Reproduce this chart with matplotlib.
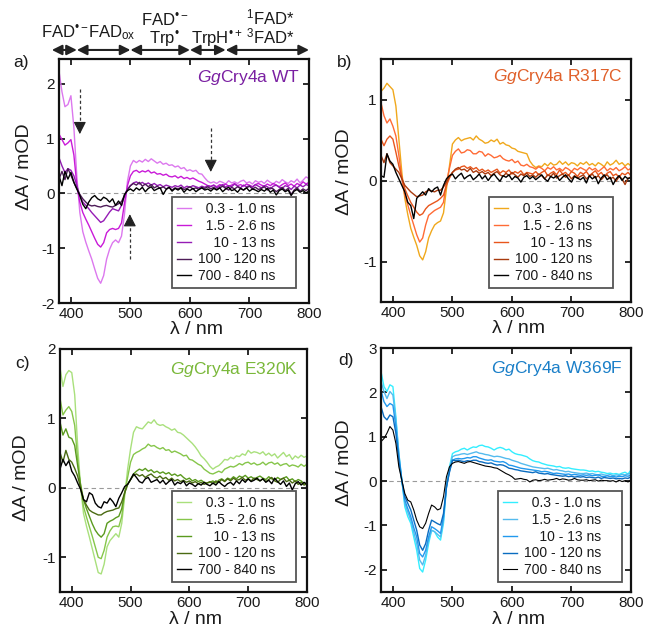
import numpy as np
import matplotlib
matplotlib.use("Agg")
import matplotlib.pyplot as plt
from matplotlib.transforms import blended_transform_factory

plt.rcParams["font.family"] = ["Liberation Sans", "DejaVu Sans"]
plt.rcParams["mathtext.fontset"] = "custom"
plt.rcParams["mathtext.rm"] = "Liberation Sans"
plt.rcParams["mathtext.it"] = "Liberation Sans:italic"
plt.rcParams["mathtext.bf"] = "Liberation Sans:bold"
plt.rcParams["mathtext.sf"] = "Liberation Sans"
TXT = "#1a1a1a"

# wavelength grid of the transient spectra (nm)
wavelength = np.arange(380, 801, 5)

delay_labels = ["  0.3 - 1.0 ns", "  1.5 - 2.6 ns", "    10 - 13 ns",
                "100 - 120 ns", "700 - 840 ns"]

# ---- GgCry4a WT ----
wt_03 = [2.23, 1.85, 1.58, 1.62, 1.78, 1.20, 0.30, -0.35, -0.70, -0.89, -1.05, -1.20, -1.38, -1.55, -1.64, -1.50, -1.20,
         -1.02, -0.90, -0.85, -0.90, -0.78, -0.38, 0.22, 0.50, 0.60, 0.56, 0.60, 0.57, 0.62, 0.58, 0.63, 0.59, 0.55,
         0.58, 0.53, 0.55, 0.51, 0.52, 0.48, 0.50, 0.45, 0.47, 0.41, 0.43, 0.40, 0.42, 0.36, 0.35, 0.28, 0.22,
         0.19, 0.21, 0.18, 0.22, 0.20, 0.17, 0.23, 0.19, 0.21, 0.18, 0.22, 0.24, 0.19, 0.21, 0.17, 0.23, 0.20,
         0.22, 0.18, 0.24, 0.20, 0.17, 0.22, 0.19, 0.25, 0.21, 0.18, 0.23, 0.20, 0.26, 0.19, 0.24, 0.30, 0.27]
wt_15 = [1.08, 0.98, 0.88, 0.92, 0.98, 0.70, 0.15, -0.16, -0.35, -0.47, -0.58, -0.70, -0.82, -0.93, -0.98, -0.90, -0.72,
         -0.66, -0.64, -0.66, -0.64, -0.54, -0.18, 0.14, 0.32, 0.40, 0.42, 0.38, 0.41, 0.39, 0.42, 0.37, 0.39, 0.35,
         0.36, 0.33, 0.35, 0.31, 0.30, 0.32, 0.28, 0.31, 0.27, 0.29, 0.26, 0.28, 0.25, 0.22, 0.20, 0.17, 0.14,
         0.13, 0.15, 0.12, 0.16, 0.14, 0.17, 0.13, 0.15, 0.18, 0.14, 0.16, 0.13, 0.17, 0.15, 0.12, 0.16, 0.18,
         0.15, 0.13, 0.17, 0.14, 0.18, 0.15, 0.12, 0.16, 0.19, 0.14, 0.17, 0.13, 0.18, 0.15, 0.21, 0.17, 0.20]
wt_10 = [0.65, 0.50, 0.38, 0.45, 0.42, 0.32, 0.14, -0.04, -0.16, -0.22, -0.28, -0.35, -0.41, -0.47, -0.53, -0.50, -0.42,
         -0.34, -0.28, -0.30, -0.32, -0.22, -0.05, 0.08, 0.14, 0.19, 0.21, 0.17, 0.20, 0.16, 0.19, 0.15, 0.18, 0.14,
         0.16, 0.12, 0.15, 0.13, 0.11, 0.14, 0.12, 0.15, 0.10, 0.13, 0.11, 0.14, 0.12, 0.10, 0.13, 0.11, 0.14,
         0.12, 0.15, 0.10, 0.13, 0.16, 0.11, 0.14, 0.12, 0.17, 0.13, 0.10, 0.15, 0.12, 0.14, 0.11, 0.16, 0.13,
         0.10, 0.14, 0.12, 0.08, 0.13, 0.15, 0.11, 0.09, 0.14, 0.12, 0.07, 0.13, 0.10, 0.15, 0.12, 0.16, 0.14]
wt_100 = [0.26, 0.40, 0.25, 0.45, 0.33, 0.20, 0.08, -0.02, -0.10, -0.16, -0.21, -0.23, -0.22, -0.24, -0.25, -0.23, -0.22,
          -0.24, -0.25, -0.22, -0.19, -0.15, -0.04, 0.06, 0.14, 0.18, 0.15, 0.20, 0.13, 0.17, 0.12, 0.16, 0.10, 0.13,
          0.09, 0.12, 0.08, 0.11, 0.06, 0.10, 0.08, 0.11, 0.07, 0.09, 0.12, 0.08, 0.10, 0.07, 0.11, 0.09, 0.12,
          0.08, 0.11, 0.07, 0.10, 0.13, 0.09, 0.06, 0.11, 0.08, 0.12, 0.09, 0.06, 0.10, 0.13, 0.08, 0.11, 0.07,
          0.09, 0.12, 0.06, 0.10, 0.08, 0.03, 0.07, 0.11, 0.05, 0.09, -0.02, 0.06, 0.10, 0.04, 0.08, 0.05, 0.09]
wt_700 = [0.32, 0.14, 0.40, 0.26, 0.38, 0.20, 0.08, -0.04, -0.20, -0.28, -0.16, -0.08, -0.04, -0.10, -0.13, -0.07, -0.10,
          -0.16, -0.10, -0.22, -0.14, -0.22, -0.02, 0.05, 0.08, 0.04, 0.10, 0.06, 0.11, 0.03, 0.09, 0.12, 0.05, 0.08,
          0.10, -0.02, 0.07, 0.11, 0.04, 0.09, 0.06, 0.10, 0.02, 0.08, 0.05, 0.09, 0.03, 0.07, 0.10, 0.06, 0.08,
          0.04, 0.09, 0.06, 0.10, 0.03, 0.08, 0.11, 0.05, 0.07, 0.02, 0.09, 0.06, 0.10, 0.04, 0.08, 0.06, 0.03,
          0.07, 0.04, 0.09, 0.02, 0.06, -0.03, 0.05, 0.08, 0.03, 0.06, -0.04, 0.04, 0.07, 0.02, 0.05, 0.01, 0.04]

# ---- GgCry4a R317C ----
r317c_03 = [1.10, 1.14, 1.20, 1.16, 1.12, 0.92, 0.51, 0.10, -0.22, -0.42, -0.59, -0.70, -0.80, -0.93, -0.98, -0.88, -0.71,
            -0.62, -0.55, -0.52, -0.50, -0.40, -0.10, 0.18, 0.45, 0.50, 0.53, 0.49, 0.51, 0.52, 0.53, 0.50, 0.55, 0.51,
            0.49, 0.46, 0.47, 0.50, 0.48, 0.51, 0.45, 0.47, 0.44, 0.43, 0.40, 0.39, 0.36, 0.35, 0.34, 0.33, 0.24,
            0.19, 0.16, 0.18, 0.17, 0.21, 0.18, 0.22, 0.19, 0.20, 0.24, 0.20, 0.23, 0.19, 0.22, 0.21, 0.18, 0.22,
            0.20, 0.23, 0.19, 0.21, 0.18, 0.22, 0.20, 0.17, 0.23, 0.19, 0.21, 0.25, 0.20, 0.22, 0.18, 0.21, 0.18]
r317c_15 = [0.96, 0.80, 0.71, 0.76, 0.67, 0.55, 0.31, 0.02, -0.18, -0.30, -0.43, -0.55, -0.67, -0.76, -0.71, -0.55, -0.43,
            -0.40, -0.37, -0.35, -0.33, -0.27, -0.02, 0.15, 0.31, 0.36, 0.39, 0.34, 0.35, 0.38, 0.37, 0.33, 0.33, 0.36,
            0.35, 0.30, 0.33, 0.31, 0.28, 0.29, 0.31, 0.27, 0.25, 0.24, 0.26, 0.22, 0.24, 0.19, 0.18, 0.20, 0.17,
            0.16, 0.14, 0.17, 0.15, 0.12, 0.16, 0.14, 0.17, 0.13, 0.15, 0.12, 0.16, 0.14, 0.11, 0.15, 0.13, 0.16,
            0.14, 0.12, 0.16, 0.13, 0.15, 0.11, 0.14, 0.17, 0.12, 0.15, 0.13, 0.16, 0.12, 0.14, 0.17, 0.13, 0.15]
r317c_10 = [0.51, 0.43, 0.51, 0.55, 0.51, 0.35, 0.18, 0.04, -0.10, -0.19, -0.27, -0.33, -0.39, -0.43, -0.41, -0.35, -0.31,
            -0.29, -0.27, -0.25, -0.22, -0.18, -0.06, 0.03, 0.10, 0.13, 0.14, 0.17, 0.18, 0.15, 0.17, 0.14, 0.16, 0.12,
            0.14, 0.11, 0.13, 0.10, 0.12, 0.14, 0.09, 0.12, 0.10, 0.13, 0.08, 0.11, 0.09, 0.12, 0.07, 0.10, 0.09,
            0.08, 0.11, 0.07, 0.10, 0.12, 0.06, 0.09, 0.11, 0.07, 0.13, 0.08, 0.10, 0.06, 0.11, 0.09, 0.05, 0.10,
            0.08, 0.11, 0.06, 0.09, 0.12, 0.07, 0.10, 0.05, 0.09, 0.11, 0.06, 0.08, 0.04, 0.09, 0.07, 0.10, 0.06]
r317c_100 = [0.31, 0.22, 0.33, 0.22, 0.18, 0.14, 0.10, 0.02, -0.06, -0.10, -0.14, -0.17, -0.20, -0.19, -0.18, -0.14, -0.12,
             -0.13, -0.14, -0.12, -0.12, -0.08, -0.02, 0.05, 0.10, 0.14, 0.16, 0.13, 0.14, 0.11, 0.15, 0.10, 0.12, 0.09,
             0.11, 0.08, 0.10, 0.06, 0.09, 0.11, 0.07, 0.05, 0.09, 0.06, 0.10, 0.07, 0.04, 0.08, 0.06, 0.09, 0.05,
             0.07, 0.04, 0.08, 0.06, 0.02, 0.07, 0.05, 0.09, 0.03, 0.06, 0.08, 0.04, 0.07, 0.02, 0.06, 0.03, 0.05,
             0.07, 0.02, 0.05, 0.08, 0.03, 0.06, 0.01, 0.05, 0.07, 0.02, 0.04, -0.01, 0.05, 0.02, -0.05, 0.03, 0.04]
r317c_700 = [0.06, 0.04, 0.33, 0.24, 0.20, 0.10, 0.02, -0.06, -0.14, -0.27, -0.31, -0.47, -0.22, -0.18, -0.14, -0.18, -0.10,
             -0.14, -0.10, -0.08, -0.18, -0.06, 0.02, 0.06, 0.08, 0.02, 0.06, 0.09, 0.02, 0.05, 0.07, 0.01, 0.04, 0.08,
             0.02, 0.06, 0.00, 0.05, 0.08, 0.03, -0.01, 0.06, 0.04, 0.07, 0.01, 0.05, 0.03, -0.02, 0.04, 0.06, 0.02,
             0.05, 0.01, 0.04, 0.07, 0.02, -0.01, 0.05, 0.03, 0.06, 0.00, 0.04, 0.07, 0.02, -0.02, 0.05, 0.03, 0.01,
             0.04, -0.03, 0.06, 0.02, 0.05, -0.04, 0.03, 0.07, 0.01, 0.04, -0.05, 0.02, 0.06, 0.00, 0.05, 0.02, 0.04]

# ---- GgCry4a E320K ----
e320k_03 = [1.73, 1.46, 1.63, 1.69, 1.66, 1.34, 0.61, 0.02, -0.37, -0.55, -0.71, -0.88, -1.05, -1.22, -1.24, -1.10, -0.85,
            -0.76, -0.71, -0.66, -0.71, -0.51, -0.12, 0.27, 0.56, 0.80, 0.88, 0.86, 0.85, 0.90, 0.95, 0.93, 0.98, 0.92,
            0.90, 0.91, 0.88, 0.86, 0.83, 0.85, 0.80, 0.79, 0.76, 0.72, 0.68, 0.64, 0.59, 0.53, 0.46, 0.42, 0.37,
            0.31, 0.27, 0.30, 0.32, 0.36, 0.41, 0.40, 0.44, 0.42, 0.46, 0.45, 0.49, 0.47, 0.54, 0.50, 0.52, 0.51,
            0.49, 0.52, 0.47, 0.50, 0.46, 0.49, 0.43, 0.47, 0.51, 0.45, 0.48, 0.41, 0.46, 0.43, 0.47, 0.44, 0.46]
e320k_15 = [1.29, 1.05, 1.12, 1.17, 1.10, 0.90, 0.41, 0.02, -0.27, -0.42, -0.56, -0.70, -0.85, -1.00, -1.02, -0.90, -0.71,
            -0.62, -0.56, -0.55, -0.56, -0.41, -0.07, 0.15, 0.37, 0.48, 0.51, 0.53, 0.56, 0.58, 0.63, 0.60, 0.61, 0.58,
            0.56, 0.58, 0.54, 0.55, 0.51, 0.53, 0.51, 0.49, 0.46, 0.47, 0.41, 0.40, 0.37, 0.34, 0.32, 0.27, 0.24,
            0.21, 0.20, 0.22, 0.24, 0.22, 0.27, 0.29, 0.31, 0.30, 0.32, 0.35, 0.33, 0.36, 0.37, 0.34, 0.36, 0.33,
            0.34, 0.37, 0.33, 0.36, 0.37, 0.34, 0.36, 0.32, 0.34, 0.35, 0.31, 0.33, 0.32, 0.30, 0.34, 0.31, 0.34]
e320k_10 = [0.95, 0.76, 0.85, 0.73, 0.71, 0.61, 0.32, 0.05, -0.17, -0.30, -0.41, -0.52, -0.61, -0.67, -0.71, -0.66, -0.51,
            -0.48, -0.46, -0.43, -0.41, -0.30, -0.07, 0.05, 0.12, 0.20, 0.24, 0.27, 0.25, 0.28, 0.24, 0.26, 0.22, 0.24,
            0.21, 0.23, 0.20, 0.22, 0.18, 0.20, 0.17, 0.19, 0.15, 0.12, 0.14, 0.10, 0.12, 0.09, 0.11, 0.08, 0.07,
            0.08, 0.10, 0.07, 0.11, 0.13, 0.10, 0.14, 0.12, 0.16, 0.13, 0.17, 0.15, 0.18, 0.14, 0.16, 0.13, 0.15,
            0.17, 0.14, 0.12, 0.16, 0.13, 0.11, 0.15, 0.12, 0.14, 0.16, 0.11, 0.13, 0.09, 0.12, 0.10, 0.06, 0.07]
e320k_100 = [0.51, 0.37, 0.54, 0.41, 0.37, 0.28, 0.17, 0.00, -0.17, -0.25, -0.32, -0.35, -0.37, -0.39, -0.39, -0.36, -0.34,
             -0.33, -0.32, -0.30, -0.29, -0.20, -0.07, 0.05, 0.12, 0.18, 0.20, 0.17, 0.19, 0.15, 0.18, 0.20, 0.16, 0.14,
             0.17, 0.13, 0.15, 0.11, 0.14, 0.10, 0.12, 0.09, 0.11, 0.08, 0.10, 0.07, 0.09, 0.06, 0.08, 0.05, 0.07,
             0.09, 0.06, 0.10, 0.08, 0.12, 0.09, 0.13, 0.10, 0.14, 0.11, 0.12, 0.15, 0.11, 0.13, 0.10, 0.14, 0.12,
             0.10, 0.13, 0.09, 0.12, 0.15, 0.10, 0.08, 0.12, 0.14, 0.09, 0.11, 0.07, 0.10, 0.05, 0.08, 0.04, 0.06]
e320k_700 = [0.27, 0.41, 0.32, 0.39, 0.24, 0.17, 0.07, -0.02, -0.17, -0.20, -0.07, -0.10, -0.22, -0.27, -0.29, -0.20, -0.22,
             -0.15, -0.20, -0.27, -0.15, -0.07, 0.02, 0.05, 0.12, 0.20, 0.15, 0.09, 0.07, 0.13, 0.15, 0.08, 0.10, 0.12,
             0.07, 0.11, 0.05, 0.09, 0.12, 0.04, 0.08, 0.06, 0.10, 0.03, 0.07, 0.05, 0.02, 0.06, 0.04, 0.08, 0.05,
             0.03, 0.07, 0.04, 0.09, 0.05, 0.02, 0.06, 0.08, 0.04, 0.10, 0.06, 0.12, 0.08, 0.13, 0.09, 0.11, 0.14,
             0.10, 0.13, 0.08, 0.11, 0.06, 0.14, 0.09, 0.05, 0.10, 0.02, 0.07, -0.03, 0.06, 0.09, 0.04, 0.08, 0.05]

# ---- GgCry4a W369F ----
w369f_03 = [2.47, 2.13, 2.02, 2.17, 2.13, 1.45, 0.62, 0.02, -0.58, -0.80, -0.95, -1.26, -1.56, -1.97, -2.05, -1.78, -1.41,
            -1.11, -1.14, -1.26, -1.33, -0.95, -0.13, 0.32, 0.62, 0.66, 0.68, 0.72, 0.74, 0.70, 0.74, 0.77, 0.76, 0.80,
            0.81, 0.78, 0.77, 0.74, 0.70, 0.74, 0.76, 0.74, 0.70, 0.72, 0.66, 0.62, 0.60, 0.59, 0.57, 0.55, 0.50,
            0.46, 0.44, 0.43, 0.40, 0.38, 0.36, 0.35, 0.34, 0.32, 0.33, 0.30, 0.29, 0.30, 0.28, 0.27, 0.26, 0.25,
            0.25, 0.24, 0.22, 0.23, 0.21, 0.22, 0.20, 0.19, 0.17, 0.18, 0.16, 0.17, 0.15, 0.18, 0.20, 0.16, 0.25]
w369f_15 = [2.24, 2.02, 1.86, 2.02, 1.94, 1.38, 0.62, 0.02, -0.50, -0.70, -0.88, -1.15, -1.41, -1.78, -1.89, -1.67, -1.33,
            -1.11, -1.14, -1.20, -1.26, -0.88, -0.13, 0.28, 0.55, 0.58, 0.59, 0.61, 0.62, 0.60, 0.62, 0.64, 0.66, 0.63,
            0.62, 0.60, 0.59, 0.57, 0.55, 0.56, 0.55, 0.53, 0.51, 0.50, 0.47, 0.45, 0.43, 0.40, 0.38, 0.36, 0.34,
            0.32, 0.31, 0.30, 0.29, 0.28, 0.29, 0.27, 0.25, 0.26, 0.24, 0.23, 0.21, 0.22, 0.20, 0.19, 0.18, 0.17,
            0.17, 0.18, 0.16, 0.17, 0.15, 0.14, 0.16, 0.14, 0.13, 0.15, 0.12, 0.14, 0.13, 0.15, 0.14, 0.16, 0.17]
w369f_10 = [2.05, 1.79, 1.68, 1.75, 1.71, 1.23, 0.55, 0.02, -0.43, -0.62, -0.80, -1.05, -1.26, -1.63, -1.71, -1.56, -1.26,
            -1.03, -1.07, -1.12, -1.18, -0.80, -0.13, 0.22, 0.47, 0.50, 0.51, 0.50, 0.51, 0.53, 0.52, 0.55, 0.55, 0.52,
            0.50, 0.48, 0.47, 0.48, 0.45, 0.44, 0.43, 0.44, 0.41, 0.36, 0.35, 0.33, 0.31, 0.29, 0.28, 0.27, 0.26,
            0.25, 0.24, 0.23, 0.21, 0.22, 0.21, 0.19, 0.17, 0.18, 0.17, 0.16, 0.15, 0.16, 0.14, 0.15, 0.14, 0.13,
            0.14, 0.13, 0.14, 0.12, 0.13, 0.14, 0.11, 0.10, 0.12, 0.10, 0.11, 0.09, 0.11, 0.10, 0.12, 0.11, 0.14]
w369f_100 = [1.68, 1.45, 1.38, 1.49, 1.45, 1.08, 0.47, 0.00, -0.35, -0.50, -0.65, -0.88, -1.11, -1.44, -1.56, -1.41, -1.11,
             -0.88, -0.92, -0.96, -0.99, -0.73, -0.13, 0.20, 0.47, 0.46, 0.47, 0.45, 0.44, 0.46, 0.45, 0.47, 0.47, 0.44,
             0.43, 0.41, 0.40, 0.41, 0.38, 0.36, 0.37, 0.36, 0.33, 0.29, 0.28, 0.26, 0.25, 0.23, 0.22, 0.21, 0.20,
             0.19, 0.21, 0.18, 0.17, 0.16, 0.17, 0.15, 0.14, 0.13, 0.12, 0.11, 0.12, 0.10, 0.11, 0.09, 0.10, 0.09,
             0.10, 0.08, 0.09, 0.08, 0.07, 0.09, 0.06, 0.08, 0.07, 0.06, 0.07, 0.05, 0.06, 0.05, 0.07, 0.06, 0.10]
w369f_700 = [0.89, 0.96, 1.08, 1.23, 1.15, 0.85, 0.32, 0.02, -0.28, -0.43, -0.47, -0.65, -0.88, -1.03, -1.07, -0.95, -0.73,
             -0.54, -0.58, -0.65, -0.62, -0.35, 0.10, 0.32, 0.40, 0.43, 0.44, 0.42, 0.40, 0.43, 0.44, 0.42, 0.40, 0.38,
             0.36, 0.34, 0.33, 0.32, 0.30, 0.29, 0.25, 0.21, 0.17, 0.14, 0.10, 0.04, 0.05, 0.06, 0.04, 0.03, -0.02,
             0.02, 0.03, 0.01, 0.02, 0.04, 0.02, 0.03, 0.04, 0.06, 0.03, 0.05, 0.04, 0.02, 0.03, 0.06, 0.03, 0.02,
             0.02, 0.03, 0.01, 0.02, 0.03, 0.00, 0.02, 0.01, 0.01, 0.00, 0.01, -0.02, 0.02, -0.01, 0.01, -0.02, 0.02]

panels = [
    dict(series=[wt_03, wt_15, wt_10, wt_100, wt_700],
         colors=["#dc78ee", "#c91ad8", "#951cb5", "#4e1c58", "#000000"],
         widths=[1.0, 1.0, 1.0, 1.0, 1.0],
         name="$\\mathit{Gg}$Cry4a WT", name_color="#7a1fa2",
         rect=[59, 59, 250, 244], ylim=(-2, 2.45), yticks=[-2, -1, 0, 1, 2],
         tag="a)", tag_xy=(13, 62), ylab_xy=(-0.104, 0.557), xlab_y=-0.075,
         leg_anchor=(1 - 13 / 250, 15 / 244), name_y=0.926),
    dict(series=[r317c_03, r317c_15, r317c_10, r317c_100, r317c_700],
         colors=["#f0a81c", "#ff6b35", "#e8561c", "#a83a0e", "#000000"],
         widths=[1.0, 1.0, 1.0, 1.0, 1.0],
         name="$\\mathit{Gg}$Cry4a R317C", name_color="#e0602a",
         rect=[381, 59, 250, 243], ylim=(-1.5, 1.5), yticks=[-1, 0, 1],
         tag="b)", tag_xy=(337, 62), ylab_xy=(-0.112, 0.535), xlab_y=-0.075,
         leg_anchor=(1 - 18 / 250, 14 / 243), name_y=0.926),
    dict(series=[e320k_03, e320k_15, e320k_10, e320k_100, e320k_700],
         colors=["#a9e07c", "#86c64a", "#5a9a1e", "#4a6a12", "#000000"],
         widths=[1.0, 1.0, 1.0, 1.0, 1.0],
         name="$\\mathit{Gg}$Cry4a E320K", name_color="#7ab83a",
         rect=[60, 349, 247, 243], ylim=(-1.5, 2), yticks=[-1, 0, 1, 2],
         tag="c)", tag_xy=(15, 364), ylab_xy=(-0.121, 0.469), xlab_y=-0.078,
         leg_anchor=(1 - 11 / 247, 10 / 243), name_y=0.914),
    dict(series=[w369f_03, w369f_15, w369f_10, w369f_100, w369f_700],
         colors=["#33eeff", "#55bbee", "#2299ee", "#0a6cc0", "#000000"],
         widths=[1.0, 1.0, 1.0, 1.0, 0.8],
         name="$\\mathit{Gg}$Cry4a W369F", name_color="#1a7fc8",
         rect=[381, 348, 250, 244], ylim=(-2.5, 3), yticks=[-2, -1, 0, 1, 2, 3],
         tag="d)", tag_xy=(338, 360), ylab_xy=(-0.112, 0.529), xlab_y=-0.078,
         leg_anchor=(1 - 9 / 250, 10 / 244), name_y=0.914),
]

W, H = 648, 630
fig = plt.figure(figsize=(W / 100, H / 100), dpi=100)

axes = []
for p in panels:
    x0, y0, w, h = p["rect"]
    ax = fig.add_axes([x0 / W, 1 - (y0 + h) / H, w / W, h / H])
    axes.append(ax)
    ax.axhline(0, color="#9a9a9a", lw=0.8, ls=(0, (4, 3)), zorder=1)
    for vals, col, lw, lab in zip(p["series"], p["colors"], p["widths"], delay_labels):
        ax.plot(wavelength, vals, color=col, lw=lw, label=lab + "    ", zorder=2)
    ax.set_xlim(380, 800)
    ax.set_ylim(*p["ylim"])
    ax.set_xticks([400, 500, 600, 700, 800])
    ax.set_yticks(p["yticks"])
    ax.set_yticklabels([f"{t:g}" for t in p["yticks"]])
    ax.tick_params(direction="in", top=True, right=True, length=4, width=1.3,
                   labelsize=11, colors=TXT, pad=3)
    for s in ax.spines.values():
        s.set_linewidth(1.6)
        s.set_color("#111111")
    ax.set_xlabel("λ / nm", fontsize=14, color=TXT)
    ax.set_ylabel("ΔA / mOD", fontsize=14, color=TXT)
    ax.xaxis.set_label_coords(0.55, p["xlab_y"])
    ax.yaxis.set_label_coords(*p["ylab_xy"])
    ax.text(0.965, p["name_y"], p["name"], transform=ax.transAxes, ha="right",
            va="center", fontsize=12.5, color=p["name_color"])
    leg = ax.legend(loc="lower right", bbox_to_anchor=p["leg_anchor"], borderaxespad=0,
                    fontsize=10, handlelength=1.0, handletextpad=0.55, labelspacing=0.2,
                    borderpad=0.35, fancybox=False, framealpha=1, edgecolor="#555555")
    leg.get_frame().set_linewidth(1.3)
    for t in leg.get_texts():
        t.set_color(TXT)
    fig.text(p["tag_xy"][0] / W, 1 - p["tag_xy"][1] / H, p["tag"], ha="left",
             va="center", fontsize=12.5, color=TXT)

# species bands above panel a
ax = axes[0]
band_edges = [368, 410, 500, 600, 660, 800]
tr = blended_transform_factory(ax.transData, ax.transAxes)
for a, b in zip(band_edges[:-1], band_edges[1:]):
    ax.annotate("", xy=(b, 1.037), xytext=(a, 1.037), xycoords=tr, textcoords=tr,
                arrowprops=dict(arrowstyle="<|-|>,head_length=0.6,head_width=0.3",
                                color="#222222", lw=1.5, shrinkA=0, shrinkB=0,
                                mutation_scale=10), annotation_clip=False)
band_labels = [
    (390, 1.088, "FAD$^{•−}$"),
    (468, 1.088, "FAD$_\\mathrm{ox}$"),
    (557, 1.064, "FAD$^{•−}$\nTrp$^{•}$"),
    (645, 1.064, "TrpH$^{•+}$"),
    (735, 1.064, "$^{1}$FAD*\n$^{3}$FAD*"),
]
for x, y, s in band_labels:
    ax.text(x, y, s, transform=tr, ha="center", va="baseline", fontsize=12,
            color=TXT, linespacing=0.95, multialignment="center")

# dashed arrows marking the decaying bands in panel a
for x, y_start, y_tip in [(415, 1.90, 1.08), (499, -1.19, -0.38), (635, 1.20, 0.39)]:
    head = 0.18 if y_tip < y_start else -0.18
    ax.plot([x, x], [y_start, y_tip + head], color="#333333", lw=0.9, ls=(0, (2.5, 2)), zorder=3)
    ax.annotate("", xy=(x, y_tip), xytext=(x, y_tip + head),
                arrowprops=dict(arrowstyle="-|>,head_length=0.75,head_width=0.38",
                                color="#222222", lw=0.8, shrinkA=0, shrinkB=0,
                                mutation_scale=10))

fig.savefig("out.png", dpi=100)
